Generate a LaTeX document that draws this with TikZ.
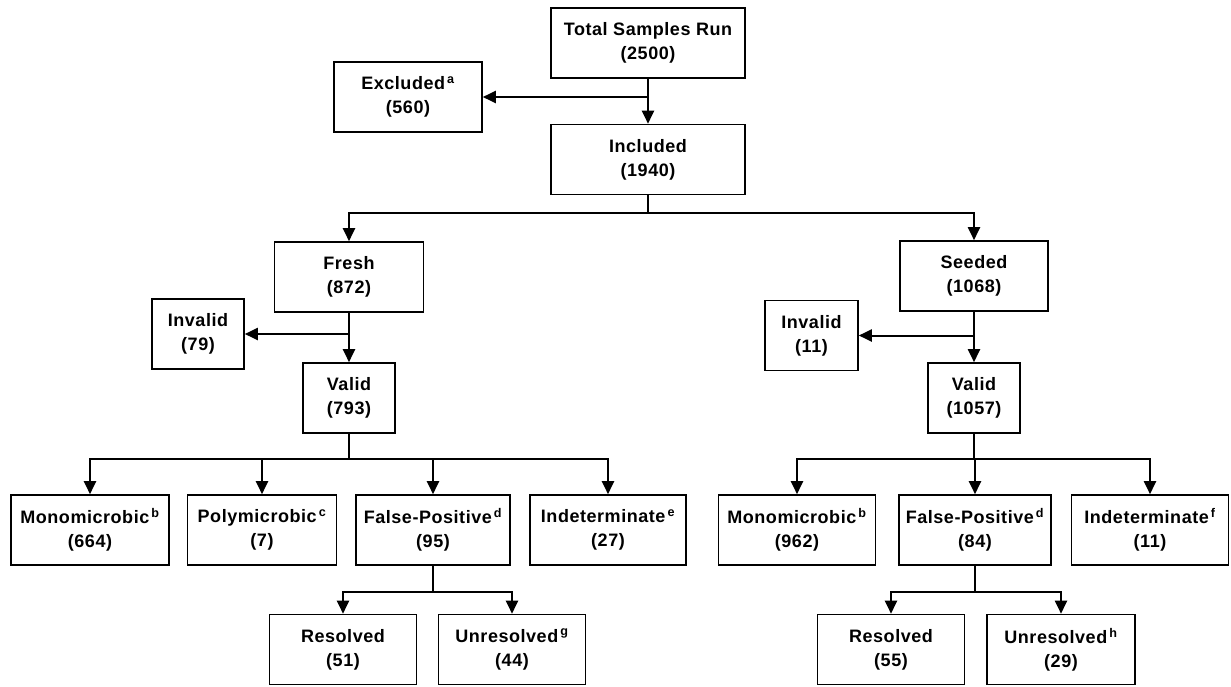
\documentclass[tikz,border=0pt]{standalone}
\usepackage{fontspec}
\setmainfont{Liberation Sans}[LetterSpace=3]
\usepackage{tikz}
\usetikzlibrary{arrows.meta}
\tikzstyle{box}=[rectangle,draw=black,line width=1.6,minimum height=70,align=center,inner sep=2,font=\fontsize{18}{24}\selectfont\bfseries]
\tikzstyle{inarrow}=[-{Triangle[length=13,width=12]},line width=2]
\tikzstyle{simple}=[-,line width=2]
\pgfdeclarelayer{edgelayer}
\pgfdeclarelayer{nodelayer}
\pgfsetlayers{edgelayer,nodelayer,main}
\newcommand{\sups}[1]{\textsuperscript{\,#1}}
\begin{document}
\begin{tikzpicture}[x=1pt,y=-1pt]
	\useasboundingbox (0,0) rectangle (1231,686);
	\begin{pgfonlayer}{nodelayer}
		\node [style=box, minimum width=194] (total) at (648, 43) {Total Samples Run\\(2500)};
		\node [style=box, minimum width=148] (excl) at (408, 97) {Excluded\sups{a}\\(560)};
		\node [style=box, minimum width=194] (incl) at (648, 159.5) {Included\\(1940)};

		\node [style=box, minimum width=149] (fresh) at (349, 277) {Fresh\\(872)};
		\node [style=box, minimum width=92] (invL) at (198, 334) {Invalid\\(79)};
		\node [style=box, minimum width=92] (validL) at (349, 398) {Valid\\(793)};

		\node [style=box, minimum width=148] (seed) at (974, 276) {Seeded\\(1068)};
		\node [style=box, minimum width=93] (invR) at (811.5, 335.5) {Invalid\\(11)};
		\node [style=box, minimum width=92] (validR) at (974, 398) {Valid\\(1057)};

		\node [style=box, minimum width=158] (monoL) at (90, 530) {Monomicrobic\sups{b}\\(664)};
		\node [style=box, minimum width=149] (polyL) at (262, 530) {Polymicrobic\sups{c}\\(7)};
		\node [style=box, minimum width=154] (fpL) at (433, 530) {False-Positive\sups{d}\\(95)};
		\node [style=box, minimum width=156] (indL) at (608, 530) {Indeterminate\sups{e}\\(27)};

		\node [style=box, minimum width=157] (monoR) at (797, 530) {Monomicrobic\sups{b}\\(962)};
		\node [style=box, minimum width=152] (fpR) at (975, 530) {False-Positive\sups{d}\\(84)};
		\node [style=box, minimum width=157] (indR) at (1150, 530) {Indeterminate\sups{f}\\(11)};

		\node [style=box, minimum width=147] (resL) at (343, 649.5) {Resolved\\(51)};
		\node [style=box, minimum width=147] (unresL) at (512, 649.5) {Unresolved\sups{g}\\(44)};
		\node [style=box, minimum width=147] (resR) at (891, 649.5) {Resolved\\(55)};
		\node [style=box, minimum width=148] (unresR) at (1061, 649.5) {Unresolved\sups{h}\\(29)};

		\coordinate (tj) at (648, 97);
		\coordinate (ij) at (648, 212.5);
		\coordinate (fj) at (349, 334);
		\coordinate (sj) at (974, 335.5);
		\coordinate (vjL) at (349, 459);
		\coordinate (vjR) at (974, 459);
		\coordinate (fpjL) at (433, 592);
		\coordinate (fpjR) at (975, 592);
	\end{pgfonlayer}
	\begin{pgfonlayer}{edgelayer}
		\draw [style=inarrow] (total) to (incl);
		\draw [style=inarrow] (tj) to (excl.east);
		\draw [style=simple] (incl.south) to (ij);
		\draw [style=inarrow] (ij) -| (fresh.north);
		\draw [style=inarrow] (ij) -| (seed.north);

		\draw [style=inarrow] (fresh) to (validL);
		\draw [style=inarrow] (fj) to (invL.east);
		\draw [style=inarrow] (seed) to (validR);
		\draw [style=inarrow] (sj) to (invR.east);

		\draw [style=simple] (validL.south) to (vjL);
		\draw [style=inarrow] (vjL) -| (monoL.north);
		\draw [style=inarrow] (vjL) -| (polyL.north);
		\draw [style=inarrow] (vjL) -| (fpL.north);
		\draw [style=inarrow] (vjL) -| (indL.north);
		\draw [style=simple] (validR.south) to (vjR);
		\draw [style=inarrow] (vjR) -| (monoR.north);
		\draw [style=inarrow] (vjR) -| (fpR.north);
		\draw [style=inarrow] (vjR) -| (indR.north);

		\draw [style=simple] (fpL.south) to (fpjL);
		\draw [style=inarrow] (fpjL) -| (resL.north);
		\draw [style=inarrow] (fpjL) -| (unresL.north);
		\draw [style=simple] (fpR.south) to (fpjR);
		\draw [style=inarrow] (fpjR) -| (resR.north);
		\draw [style=inarrow] (fpjR) -| (unresR.north);
	\end{pgfonlayer}
\end{tikzpicture}
\end{document}
